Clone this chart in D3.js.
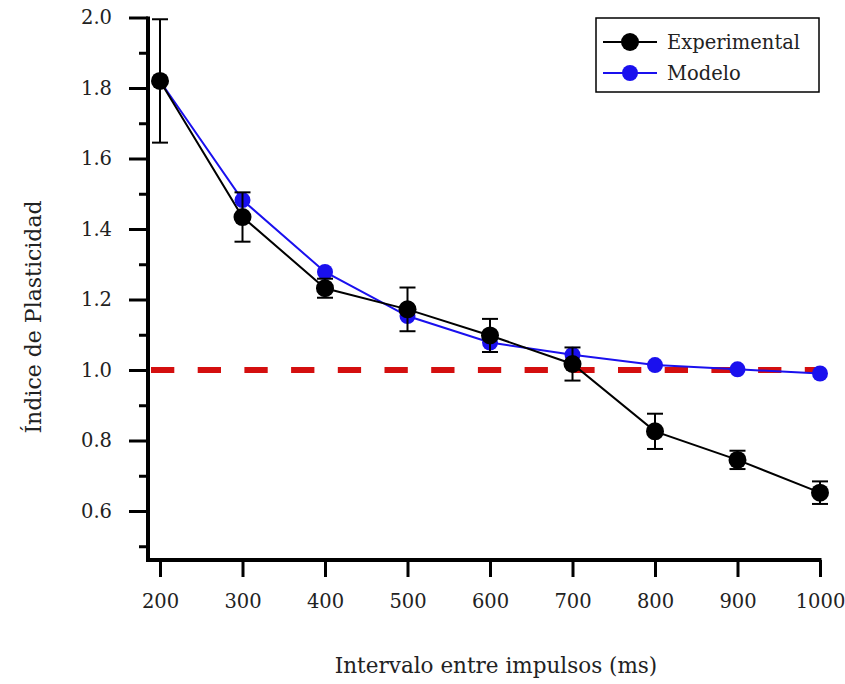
<!DOCTYPE html>
<html><head><meta charset="utf-8">
<script src="https://cdn.jsdelivr.net/npm/d3@7"></script>
<style>body{margin:0;background:#fff}svg{display:block}</style>
</head><body>
<script>
const intervals = [200,300,400,500,600,700,800,900,1000];
const experimental = [1.82,1.434,1.232,1.172,1.098,1.017,0.826,0.745,0.652];
const expError = [0.175,0.07,0.027,0.062,0.047,0.047,0.05,0.026,0.032];
const modelo = [1.82,1.482,1.278,1.153,1.078,1.043,1.014,1.002,0.99];
const yTicks = [0.6,0.8,1.0,1.2,1.4,1.6,1.8,2.0];
const yMinorTicks = [0.5,0.7,0.9,1.1,1.3,1.5,1.7,1.9];
const xTicks = [200,300,400,500,600,700,800,900,1000];
const seriesNames = ["Experimental","Modelo"];
const refValue = 1.0;

const W=845,H=684;
const svg=d3.select("body").append("svg").attr("width",W).attr("height",H);
const font="'DejaVu Serif', serif";
const txt="#222";
const x=d3.scaleLinear().domain([200,1000]).range([160,820]);
const y=d3.scaleLinear().domain([1,2]).range([370,17.5]);
const yBottom=560, xLeft=148;

// axes
const yAxis=d3.axisLeft(y).tickValues(yTicks).tickFormat(d3.format(".1f")).tickSize(19).tickPadding(17);
const yg=svg.append("g").attr("transform",`translate(${xLeft},0)`).call(yAxis);
yg.select(".domain").remove();
yg.selectAll(".tick line").attr("stroke","#000").attr("stroke-width",3);
yg.selectAll(".tick text").attr("font-family",font).attr("font-size",19.5).attr("fill",txt);
const ym=svg.append("g").attr("transform",`translate(${xLeft},0)`).call(d3.axisLeft(y).tickValues(yMinorTicks).tickSize(9).tickFormat(""));
ym.select(".domain").remove();
ym.selectAll(".tick line").attr("stroke","#000").attr("stroke-width",3);

const xAxis=d3.axisBottom(x).tickValues(xTicks).tickFormat(d3.format("d")).tickSize(17).tickPadding(17);
const xg=svg.append("g").attr("transform",`translate(0,${yBottom})`).call(xAxis);
xg.select(".domain").remove();
xg.selectAll(".tick line").attr("stroke","#000").attr("stroke-width",3);
xg.selectAll(".tick text").attr("font-family",font).attr("font-size",19.5).attr("fill",txt);

svg.append("path").attr("d",`M${xLeft},${y(2.0)-1}V${yBottom}H${x(1000)+1.5}`)
  .attr("fill","none").attr("stroke","#000").attr("stroke-width",4);

// titles
svg.append("text").attr("x",496).attr("y",673).attr("text-anchor","middle")
  .attr("font-family",font).attr("font-size",21.5).attr("fill",txt).text("Intervalo entre impulsos (ms)");
svg.append("text").attr("transform","translate(41,317) rotate(-90)").attr("text-anchor","middle")
  .attr("font-family",font).attr("font-size",22).attr("fill",txt).text("Índice de Plasticidad");

// reference dashed line
svg.append("line").attr("x1",151).attr("x2",x(1000)).attr("y1",y(refValue)).attr("y2",y(refValue))
  .attr("stroke","#d40f0f").attr("stroke-width",6).attr("stroke-dasharray","23.3,23.4");

const line=d3.line().x((d,i)=>x(intervals[i])).y(d=>y(d));
svg.append("path").datum(modelo).attr("d",line).attr("fill","none").attr("stroke","#1a10ee").attr("stroke-width",2);
svg.append("path").datum(experimental).attr("d",line).attr("fill","none").attr("stroke","#000").attr("stroke-width",2);

svg.selectAll(".mb").data(modelo).enter().append("circle")
  .attr("cx",(d,i)=>x(intervals[i])).attr("cy",d=>y(d)).attr("r",8).attr("fill","#1a10ee");

// error bars
const eb=svg.append("g").attr("stroke","#000").attr("stroke-width",2);
experimental.forEach((v,i)=>{
  const cx=x(intervals[i]),t=y(v+expError[i]),b=y(v-expError[i]);
  eb.append("line").attr("x1",cx).attr("x2",cx).attr("y1",t).attr("y2",b);
  eb.append("line").attr("x1",cx-8).attr("x2",cx+8).attr("y1",t).attr("y2",t);
  eb.append("line").attr("x1",cx-8).attr("x2",cx+8).attr("y1",b).attr("y2",b);
});
svg.selectAll(".eb").data(experimental).enter().append("circle")
  .attr("cx",(d,i)=>x(intervals[i])).attr("cy",d=>y(d)).attr("r",9).attr("fill","#000");

// legend
const lg=svg.append("g");
lg.append("rect").attr("x",596).attr("y",18).attr("width",223).attr("height",74)
  .attr("fill","#fff").attr("stroke","#000").attr("stroke-width",1.5);
const lcol=["#000","#1a10ee"];
seriesNames.forEach((n,i)=>{
  const ly=42+i*31;
  lg.append("line").attr("x1",603).attr("x2",657).attr("y1",ly).attr("y2",ly).attr("stroke",lcol[i]).attr("stroke-width",2);
  lg.append("circle").attr("cx",630).attr("cy",ly).attr("r",i?8:9).attr("fill",lcol[i]);
  lg.append("text").attr("x",667).attr("y",ly+7).attr("font-family",font).attr("font-size",19.5).attr("fill",txt).text(n);
});
</script>
</body></html>
